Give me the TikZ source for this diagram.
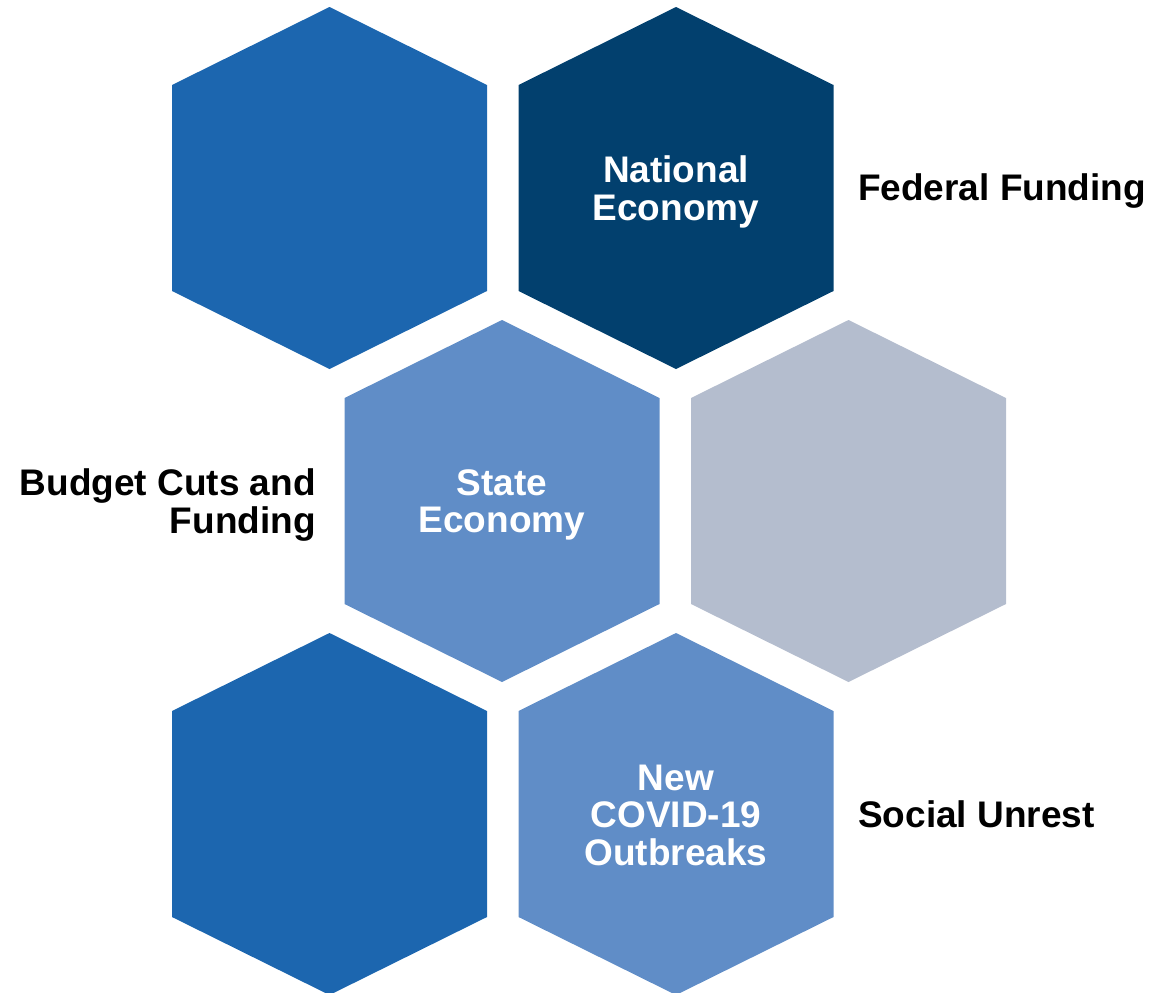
\documentclass[tikz,border=0pt]{standalone}
\usepackage{fontspec}
\setmainfont{Liberation Sans}
\definecolor{hexblue}{HTML}{1C66AF}
\definecolor{hexnavy}{HTML}{02406E}
\definecolor{hexlight}{HTML}{608DC7}
\definecolor{hexgray}{HTML}{B4BDCE}
\tikzset{
  hexlabel/.style={text=white, font=\bfseries\fontsize{37}{37.5}\selectfont, align=center},
  sidelabel/.style={text=black, font=\bfseries\fontsize{37}{37.5}\selectfont},
}
\newcommand{\hexshape}[3]{%
  \fill[#3] (#1,#2) ++(0,-181) -- ++(157.5,78) -- ++(0,206) -- ++(-157.5,78)
     -- ++(-157.5,-78) -- ++(0,-206) -- cycle;}
\begin{document}
\begin{tikzpicture}[x=1pt,y=-1pt]
\useasboundingbox (0,0) rectangle (1154,993);
% hexagon centres
\coordinate (h1) at (329.5,188);
\coordinate (h2) at (676,188);
\coordinate (h3) at (502,501);
\coordinate (h4) at (848.5,501);
\coordinate (h5) at (329.5,814);
\coordinate (h6) at (676,814);
\hexshape{329.5}{188}{hexblue}
\hexshape{676}{188}{hexnavy}
\hexshape{502}{501}{hexlight}
\hexshape{848.5}{501}{hexgray}
\hexshape{329.5}{814}{hexblue}
\hexshape{676}{814}{hexlight}
\node[hexlabel] (nat) at ([yshift=-4pt]h2) {National\\Economy};
\node[hexlabel] (sta) at ([yshift=-4pt]h3) {State\\Economy};
\node[hexlabel] (cov) at ([yshift=-1pt]h6) {New\\COVID-19\\Outbreaks};
\node[sidelabel, anchor=west, inner sep=0pt] (fed) at (858,191) {Federal Funding};
\node[sidelabel, anchor=east, align=right, inner sep=0pt] (bud) at (316,505) {Budget Cuts and\\Funding};
\node[sidelabel, anchor=west, inner sep=0pt] (soc) at (858,814) {Social Unrest};
\end{tikzpicture}
\end{document}
